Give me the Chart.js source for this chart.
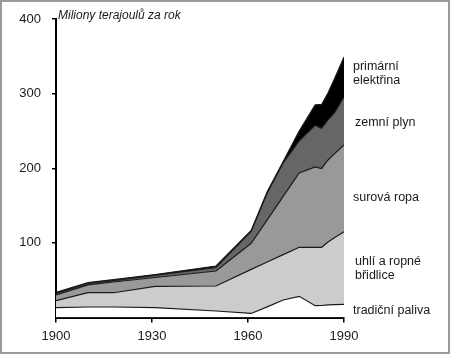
<!DOCTYPE html>
<html>
<head>
<meta charset="utf-8">
<script src="https://cdn.jsdelivr.net/npm/chart.js@4"></script>
<style>
  body { margin: 0; background: #fff; }
</style>
</head>
<body>
<canvas id="myChart" width="450" height="354"></canvas>
<script>
// values (stacked bands, millions of TJ per year)
var years = [1900, 1910, 1918, 1931, 1950, 1961, 1966, 1971, 1976, 1981, 1983, 1985, 1987, 1990];
var traditional = [13.1, 14.1, 14.1, 13.1, 8.7, 5.4, 14.2, 23.5, 28.4, 15.8, 16.1, 16.8, 17.2, 17.7];
var coal = [9.4, 19.1, 19.1, 28.5, 33.5, 59.1, 60.2, 60.7, 65.7, 78.3, 78.0, 84.4, 89.8, 97.3];
var oil = [7.7, 10.4, 14.4, 12.0, 20.1, 35.0, 56.4, 78.1, 99.6, 107.6, 105.6, 109.9, 112.2, 116.2];
var gas = [2.0, 2.0, 1.9, 2.7, 4.7, 15.8, 36.1, 44.8, 42.9, 55.7, 53.9, 53.6, 54.9, 64.4];
var electricity = [1.3, 1.3, 1.4, 1.3, 2.0, 1.3, 1.5, 2.0, 13.4, 27.5, 31.9, 36.2, 45.6, 53.6];

var xTicks = [1900, 1930, 1960, 1990];
var yTicks = [100, 200, 300, 400];
var yTitle = 'Miliony terajoulů za rok';
var bandLabels = [
    ['primární', 'elektřina'],
    ['zemní plyn'],
    ['surová ropa'],
    ['uhlí a ropné', 'břidlice'],
    ['tradiční paliva']
];

function points(values) {
    return values.map(function (v, i) { return { x: years[i], y: v }; });
}

function band(values, color, fill) {
    return {
        data: points(values),
        backgroundColor: color,
        borderColor: '#1a1a1a',
        borderWidth: 1.2,
        fill: fill,
        pointRadius: 0,
        tension: 0
    };
}

// right-hand labels and the little axis title
var labelsPlugin = {
    id: 'labels',
    afterDraw: function (chart) {
        var c = chart.ctx;
        c.save();
        c.fillStyle = '#1a1a1a';
        c.textBaseline = 'middle';
        c.font = 'italic 12px "Liberation Sans", Arial, sans-serif';
        c.fillText(yTitle, 58, 16);
        c.font = '12.5px "Liberation Sans", Arial, sans-serif';
        var rows = [[67, 81], [123], [198], [262, 276], [311]];
        var xs = [353, 355, 353, 355, 353];
        bandLabels.forEach(function (lines, i) {
            lines.forEach(function (t, j) {
                c.fillText(t, xs[i], rows[i][j]);
            });
        });
        c.strokeStyle = '#9a9a9a';
        c.lineWidth = 2;
        c.strokeRect(1, 1, 448, 352);
        c.restore();
    }
};

var ctx = document.getElementById('myChart').getContext('2d');
var myChart = new Chart(ctx, {
    type: 'line',
    data: {
        datasets: [
            band(traditional, '#ffffff', 'origin'),
            band(coal, '#cccccc', '-1'),
            band(oil, '#999999', '-1'),
            band(gas, '#666666', '-1'),
            band(electricity, '#000000', '-1')
        ]
    },
    options: {
        responsive: false,
        animation: false,
        devicePixelRatio: 1,
        layout: { padding: { top: 19, right: 106, left: 0, bottom: 0 } },
        plugins: {
            legend: { display: false },
            tooltip: { enabled: false }
        },
        scales: {
            x: {
                type: 'linear',
                min: 1900,
                max: 1990,
                afterBuildTicks: function (s) { s.ticks = xTicks.map(function (v) { return { value: v }; }); },
                afterFit: function (s) { s.height = 36.5; },
                border: { display: true, color: '#000', width: 2 },
                grid: { drawOnChartArea: false, color: '#000', tickLength: 5, lineWidth: 1.5 },
                ticks: {
                    color: '#1a1a1a',
                    padding: 6,
                    font: { family: '"Liberation Sans", Arial, sans-serif', size: 13 },
                    callback: function (v) { return String(v); }
                }
            },
            y: {
                stacked: true,
                min: 0,
                max: 400,
                afterBuildTicks: function (s) { s.ticks = yTicks.map(function (v) { return { value: v }; }); },
                afterFit: function (s) { s.width = 56; },
                border: { display: true, color: '#000', width: 2 },
                grid: { drawOnChartArea: false, color: '#000', tickLength: 4, lineWidth: 1.5 },
                ticks: {
                    color: '#1a1a1a',
                    padding: 11,
                    font: { family: '"Liberation Sans", Arial, sans-serif', size: 13 },
                    callback: function (v) { return String(v); }
                }
            }
        }
    },
    plugins: [labelsPlugin]
});
</script>
</body>
</html>
